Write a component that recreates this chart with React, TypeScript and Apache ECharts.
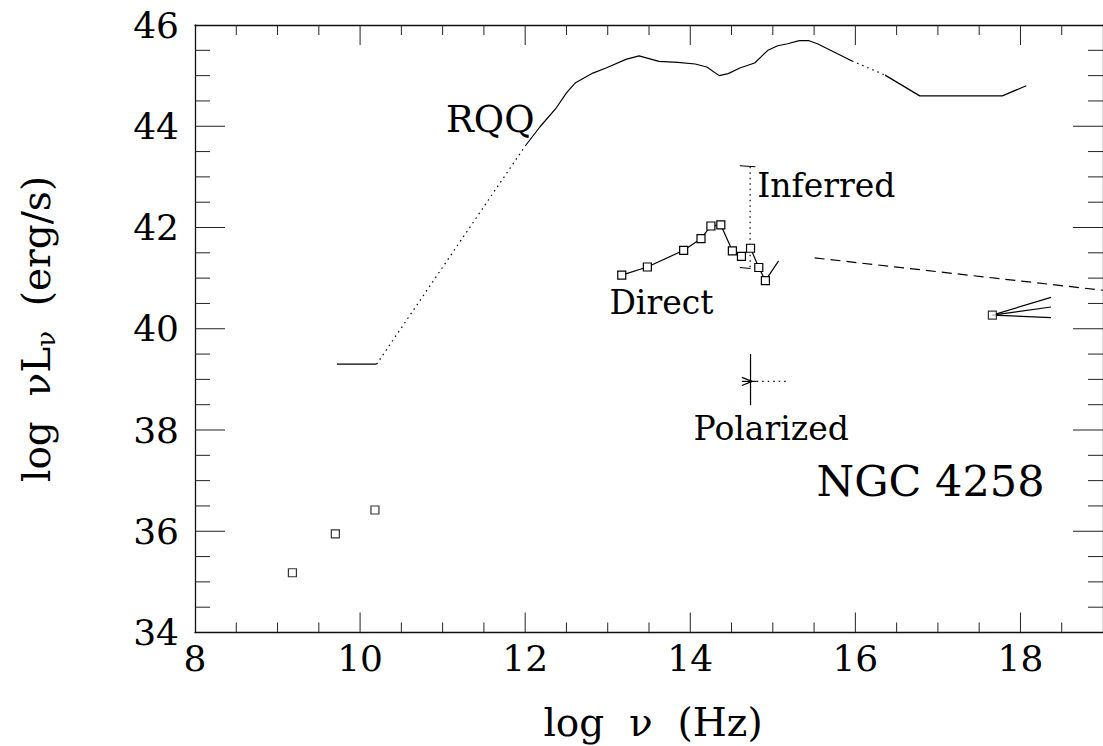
import React, { useEffect, useRef } from "react";
import * as echarts from "echarts";

const FONT = '"DejaVu Serif", "Liberation Serif", serif';

// ---- data (log nu [Hz], log nuLnu [erg/s]) ----
const radioNu = [9.18, 9.7, 10.18];
const radioL = [35.18, 35.95, 36.42];

const directNu = [13.17, 13.48, 13.92, 14.13, 14.25, 14.37, 14.51, 14.62, 14.73, 14.83, 14.91];
const directL = [41.06, 41.22, 41.55, 41.78, 42.03, 42.05, 41.54, 41.43, 41.59, 41.21, 40.95];
const directSlopeNu = [14.91, 15.07];
const directSlopeL = [40.95, 41.34];

const rqqRadioNu = [9.72, 10.2];
const rqqRadioL = [39.3, 39.3];
const rqqGapNu = [10.2, 12.0];
const rqqGapL = [39.3, 43.61];
const rqqMainNu = [12.0, 12.18, 12.38, 12.5, 12.61, 12.82, 12.98, 13.22, 13.38, 13.62, 13.85, 14.06, 14.2, 14.35, 14.46, 14.6, 14.78, 14.94, 15.06, 15.18, 15.32, 15.44, 15.54, 15.96];
const rqqMainL = [43.61, 43.99, 44.37, 44.66, 44.86, 45.05, 45.15, 45.32, 45.39, 45.28, 45.26, 45.23, 45.17, 45.0, 45.04, 45.15, 45.25, 45.5, 45.59, 45.63, 45.69, 45.69, 45.63, 45.29];
const rqqUvGapNu = [15.96, 16.36];
const rqqUvGapL = [45.29, 45.01];
const rqqXrayNu = [16.36, 16.78, 17.78, 18.07];
const rqqXrayL = [45.01, 44.6, 44.6, 44.8];

const inferredNu = [14.725, 14.725];
const inferredL = [43.2, 41.21];
const inferredTopCapNu = [14.6, 14.79];
const inferredTopCapL = [43.22, 43.2];
const inferredBotCapNu = [14.6, 14.73];
const inferredBotCapL = [41.21, 41.19];

const polBarNu = [14.73, 14.73];
const polBarL = [38.49, 39.5];
const polSolidNu = [14.625, 14.805];
const polSolidL = [38.96, 38.96];
const polArrowUpNu = [14.625, 14.75];
const polArrowUpL = [39.04, 38.96];
const polArrowDnNu = [14.625, 14.75];
const polArrowDnL = [38.88, 38.96];
const polDotNu = [14.805, 15.166];
const polDotL = [38.96, 38.96];

const hardXNu = [15.506, 19.0];
const hardXL = [41.4, 40.76];

const xrayNu = [17.66];
const xrayL = [40.27];
const xrayFanEndNu = [18.37, 18.37, 18.37];
const xrayFanEndL = [40.62, 40.43, 40.22];

const xTickMin = 8;
const xTickMax = 19;
const yTickMin = 34;
const yTickMax = 46;
// tick positions (minor every 0.5, major every 2)
const xTickValues = [8.5, 9, 9.5, 10, 10.5, 11, 11.5, 12, 12.5, 13, 13.5, 14, 14.5, 15, 15.5, 16, 16.5, 17, 17.5, 18, 18.5];
const yTickValues = [34.5, 35, 35.5, 36, 36.5, 37, 37.5, 38, 38.5, 39, 39.5, 40, 40.5, 41, 41.5, 42, 42.5, 43, 43.5, 44, 44.5, 45, 45.5];

const annotations = [
  { text: "RQQ", nu: 11.04, l: 44.14, size: 37 },
  { text: "Inferred", nu: 14.81, l: 42.82, size: 33 },
  { text: "Direct", nu: 13.02, l: 40.52, size: 33 },
  { text: "Polarized", nu: 14.04, l: 38.02, size: 33 },
  { text: "NGC 4258", nu: 15.53, l: 36.99, size: 43 },
];

const zip = (a: number[], b: number[]) => a.map((v, i) => [v, b[i]]);

const seg = (data: number[][], type: any = "solid", width = 1.2) => ({
  type: "line",
  data,
  symbol: "none",
  showSymbol: false,
  silent: true,
  lineStyle: { color: "#000", width, type },
  z: 3,
});

const DOT = [1.5, 4];

export default function App() {
  const ref = useRef<HTMLDivElement>(null);
  useEffect(() => {
    if (!ref.current) return;
    const chart = echarts.init(ref.current, undefined, { renderer: "svg" });
    const axisLine = { show: true, onZero: false, lineStyle: { color: "#111", width: 1.3 } };
    const xBase = {
      type: "value",
      min: xTickMin,
      max: xTickMax,
      interval: 2,
      axisLine,
      splitLine: { show: false },
      axisTick: { show: false },
      minorTick: { show: false },
    };
    const yBase = {
      type: "value",
      min: yTickMin,
      max: yTickMax,
      interval: 2,
      axisLine,
      splitLine: { show: false },
      axisTick: { show: false },
      minorTick: { show: false },
    };
    const square = { color: "#fff", borderColor: "#000", borderWidth: 1.2 };
    const option: any = {
      animation: false,
      backgroundColor: "#fff",
      grid: { left: 195, top: 25, width: 916, height: 607.5, containLabel: false },
      xAxis: [
        {
          ...xBase,
          position: "bottom",
          axisLabel: { show: true, showMaxLabel: false, fontSize: 36, fontFamily: FONT, color: "#000", margin: 8 },
        },
        { ...xBase, position: "top", axisLabel: { show: false } },
      ],
      yAxis: [
        {
          ...yBase,
          position: "left",
          axisLabel: { show: true, fontSize: 36, fontFamily: FONT, color: "#000", margin: 16 },
        },
        { ...yBase, position: "right", axisLabel: { show: false } },
      ],
      series: [
        seg(zip(rqqRadioNu, rqqRadioL)),
        seg(zip(rqqGapNu, rqqGapL), DOT),
        seg(zip(rqqMainNu, rqqMainL)),
        seg(zip(rqqUvGapNu, rqqUvGapL), DOT),
        seg(zip(rqqXrayNu, rqqXrayL)),
        seg(zip(inferredNu, inferredL), DOT),
        seg(zip(inferredTopCapNu, inferredTopCapL)),
        seg(zip(inferredBotCapNu, inferredBotCapL)),
        seg(zip(directSlopeNu, directSlopeL)),
        seg(zip(polBarNu, polBarL)),
        seg(zip(polSolidNu, polSolidL)),
        seg(zip(polArrowUpNu, polArrowUpL)),
        seg(zip(polArrowDnNu, polArrowDnL)),
        seg(zip(polDotNu, polDotL), DOT),
        seg(zip(hardXNu, hardXL), [10, 6]),
        ...xrayFanEndNu.map((n, i) => seg([[xrayNu[0], xrayL[0]], [n, xrayFanEndL[i]]])),
        {
          type: "line",
          data: zip(directNu, directL),
          symbol: "rect",
          symbolSize: 8,
          showSymbol: true,
          silent: true,
          lineStyle: { color: "#000", width: 1.2 },
          itemStyle: square,
          z: 5,
        },
        {
          type: "scatter",
          data: zip(radioNu, radioL),
          symbol: "rect",
          symbolSize: 8,
          silent: true,
          itemStyle: square,
          z: 5,
        },
        {
          type: "scatter",
          data: zip(xrayNu, xrayL),
          symbol: "rect",
          symbolSize: 8,
          silent: true,
          itemStyle: square,
          z: 5,
        },
      ],
    };
    chart.setOption(option);

    const toPx = (nu: number, l: number) =>
      chart.convertToPixel({ xAxisIndex: 0, yAxisIndex: 0 }, [nu, l]) as number[];

    const graphics: any[] = [];
    const tickStyle = { stroke: "#222", lineWidth: 1 };
    const isMajor = (v: number) => Math.abs(v / 2 - Math.round(v / 2)) < 1e-6;
    const yTopPx = toPx(xTickMin, yTickMax)[1];
    const yBotPx = toPx(xTickMin, yTickMin)[1];
    const xLeftPx = toPx(xTickMin, yTickMin)[0];
    const xRightPx = toPx(xTickMax, yTickMin)[0];
    xTickValues.forEach((v) => {
      const px = toPx(v, yTickMin)[0];
      const len = isMajor(v) ? 20 : 10;
      graphics.push({ type: "line", silent: true, z: 10, shape: { x1: px, y1: yBotPx, x2: px, y2: yBotPx - len }, style: tickStyle });
      graphics.push({ type: "line", silent: true, z: 10, shape: { x1: px, y1: yTopPx, x2: px, y2: yTopPx + len }, style: tickStyle });
    });
    yTickValues.forEach((v) => {
      const py = toPx(xTickMin, v)[1];
      const len = isMajor(v) ? 30 : 15;
      graphics.push({ type: "line", silent: true, z: 10, shape: { x1: xLeftPx, y1: py, x2: xLeftPx + len, y2: py }, style: tickStyle });
      graphics.push({ type: "line", silent: true, z: 10, shape: { x1: xRightPx, y1: py, x2: xRightPx - len, y2: py }, style: tickStyle });
    });

    annotations.forEach((a) => {
      const p = toPx(a.nu, a.l);
      graphics.push({
        type: "text",
        x: p[0],
        y: p[1],
        silent: true,
        style: {
          text: a.text,
          fill: "#000",
          font: `${a.size}px ${FONT}`,
          align: "left",
          verticalAlign: "middle",
        },
      });
    });
    graphics.push({
      type: "text",
      x: 653,
      y: 722,
      silent: true,
      style: {
        text: "log  ν  (Hz)",
        fill: "#000",
        font: `39px ${FONT}`,
        align: "center",
        verticalAlign: "middle",
      },
    });
    graphics.push({
      type: "text",
      x: 36,
      y: 329,
      rotation: Math.PI / 2,
      silent: true,
      style: {
        text: "{a|log  νL}{b|ν}{a|  (erg/s)}",
        align: "center",
        verticalAlign: "middle",
        rich: {
          a: { fontSize: 39, fontFamily: FONT, fill: "#000", color: "#000", lineHeight: 46, verticalAlign: "middle" },
          b: { fontSize: 26, fontFamily: FONT, fill: "#000", color: "#000", lineHeight: 26, verticalAlign: "bottom" },
        },
      },
    });
    chart.setOption({ graphic: graphics });

    return () => chart.dispose();
  }, []);
  return (
    <div
      ref={ref}
      style={{ position: "fixed", left: 0, top: 0, width: 1103, height: 746, background: "#fff" }}
    />
  );
}
